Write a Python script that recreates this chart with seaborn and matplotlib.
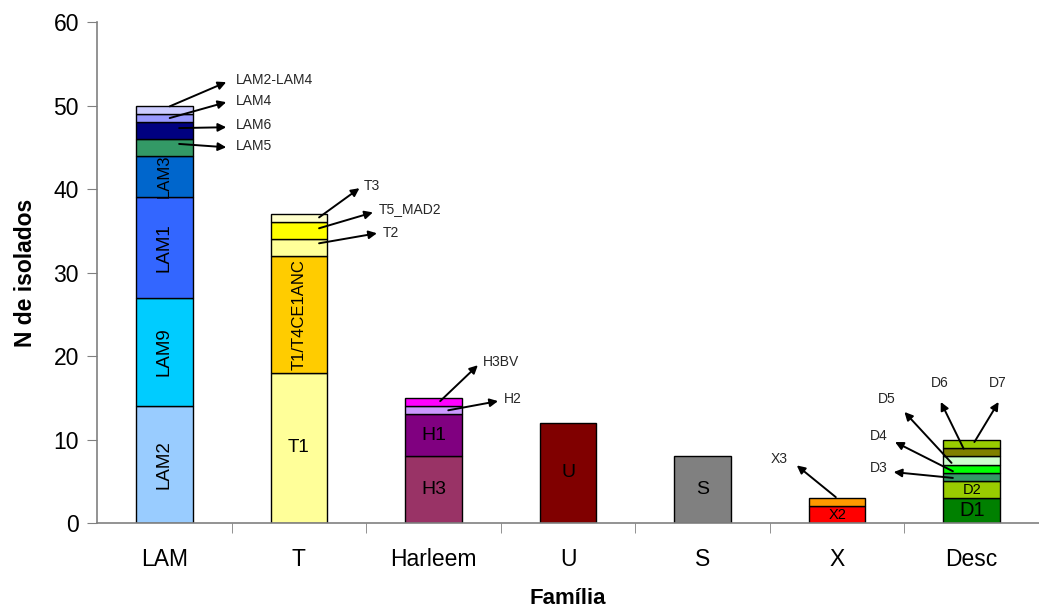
import matplotlib
matplotlib.use("Agg")
import matplotlib.pyplot as plt
import seaborn as sns
import numpy as np

families = ["LAM", "T", "Harleem", "U", "S", "X", "Desc"]

# segmentos de cada barra (de baixo para cima)
seg_labels = [
    ["LAM2", "LAM9", "LAM1", "LAM3", "LAM5", "LAM6", "LAM4", "LAM2-LAM4"],
    ["T1", "T1/T4CE1ANC", "T2", "T5_MAD2", "T3"],
    ["H3", "H1", "H2", "H3BV"],
    ["U"],
    ["S"],
    ["X2", "X3"],
    ["D1", "D2", "D3", "D4", "D5", "D6", "D7"],
]
seg_values = [
    [14, 13, 12, 5, 2, 2, 1, 1],
    [18, 14, 2, 2, 1],
    [8, 5, 1, 1],
    [12],
    [8],
    [2, 1],
    [3, 2, 1, 1, 1, 1, 1],
]
seg_colors = [
    ["#99CCFF", "#00CCFF", "#3366FF", "#0066CC", "#339966", "#000080", "#9999FF", "#CCCCFF"],
    ["#FFFF99", "#FFCC00", "#FFFF99", "#FFFF00", "#FFFFCC"],
    ["#993366", "#800080", "#CC99FF", "#FF00FF"],
    ["#800000"],
    ["#808080"],
    ["#FF0000", "#FF9900"],
    ["#008000", "#99CC00", "#339966", "#00FF00", "#CCFFCC", "#808000", "#99CC00"],
]

# rótulos escritos dentro das barras: (rotação, tamanho)
inner = {
    "LAM2": (90, 13.5), "LAM9": (90, 13.5), "LAM1": (90, 13.5), "LAM3": (90, 12),
    "T1": (0, 13.5), "T1/T4CE1ANC": (90, 12),
    "H3": (0, 14), "H1": (0, 14), "U": (0, 14), "S": (0, 14),
    "X2": (0, 10.5), "D1": (0, 14.5), "D2": (0, 10.5),
}

# setas: segmento -> (origem, ponta, posição do texto, alinhamento)
arrows = {
    "LAM2-LAM4": ((0.04, 49.9), (0.46, 52.8), (0.53, 53.0), "left"),
    "LAM4": ((0.04, 48.5), (0.46, 50.4), (0.53, 50.5), "left"),
    "LAM6": ((0.11, 47.3), (0.46, 47.4), (0.53, 47.7), "left"),
    "LAM5": ((0.11, 45.4), (0.46, 45.0), (0.53, 45.1), "left"),
    "T3": ((1.15, 36.6), (1.45, 40.1), (1.48, 40.4), "left"),
    "T5_MAD2": ((1.15, 35.3), (1.55, 37.2), (1.59, 37.6), "left"),
    "T2": ((1.15, 33.5), (1.58, 34.7), (1.62, 34.7), "left"),
    "H3BV": ((2.05, 14.6), (2.33, 18.9), (2.37, 19.3), "left"),
    "H2": ((2.11, 13.5), (2.48, 14.6), (2.52, 14.8), "left"),
    "X3": ((4.99, 3.1), (4.70, 6.9), (4.57, 7.7), "center"),
    "D3": ((5.86, 5.4), (5.42, 6.1), (5.31, 6.6), "center"),
    "D4": ((5.86, 6.2), (5.43, 9.7), (5.31, 10.4), "center"),
    "D5": ((5.85, 7.2), (5.50, 13.3), (5.37, 14.8), "center"),
    "D6": ((5.94, 8.9), (5.77, 14.5), (5.76, 16.8), "center"),
    "D7": ((6.02, 9.7), (6.20, 14.5), (6.19, 16.8), "center"),
}

sns.set_style("white")
plt.rcParams["font.family"] = ["Liberation Sans", "DejaVu Sans"]

fig = plt.figure(figsize=(10.39, 6.12), dpi=100)
ax = fig.add_axes([0.0934, 0.1454, 0.9066, 0.8186])

x = np.arange(len(families))
width = 0.42
for i, fam in enumerate(families):
    bottom = 0
    for lab, val, col in zip(seg_labels[i], seg_values[i], seg_colors[i]):
        ax.bar(x[i], val, width, bottom=bottom, color=col,
               edgecolor="black", linewidth=1.0)
        if lab in inner:
            rot, fs = inner[lab]
            ax.text(x[i], bottom + val / 2, lab, rotation=rot, fontsize=fs,
                    ha="center", va="center", color="black")
        bottom += val

for lab, (tail, head, txt, ha) in arrows.items():
    ax.annotate("", xy=head, xytext=tail,
                arrowprops=dict(arrowstyle="-|>", color="black", lw=1.4,
                                mutation_scale=12, shrinkA=0, shrinkB=0))
    ax.text(txt[0], txt[1], lab, fontsize=10, ha=ha, va="center")

ax.set_xlim(-0.5, len(families) - 0.5)
ax.set_ylim(0, 60)
ax.set_yticks(range(0, 61, 10))
ax.set_xticks(x)
ax.set_xticklabels(families)
ax.set_xticks(np.arange(0.5, len(families) - 0.5, 1), minor=True)
ax.tick_params(axis="y", direction="out", length=7, color="#808080",
               labelsize=16.5, labelcolor="black", left=True, pad=6)
ax.tick_params(axis="x", which="major", length=0, labelsize=16.5,
               labelcolor="black", pad=18)
ax.tick_params(axis="x", which="minor", direction="out", length=7,
               color="#808080", bottom=True)

for side in ["top", "right"]:
    ax.spines[side].set_visible(False)
for side in ["left", "bottom"]:
    ax.spines[side].set_color("#808080")
    ax.spines[side].set_linewidth(1.2)

ax.set_xlabel("Família", fontsize=16, fontweight="bold", labelpad=12,
              color="black")
ax.set_ylabel("N de isolados", fontsize=16.5, fontweight="bold", labelpad=12,
              color="black")

fig.savefig("out.png", dpi=100)
